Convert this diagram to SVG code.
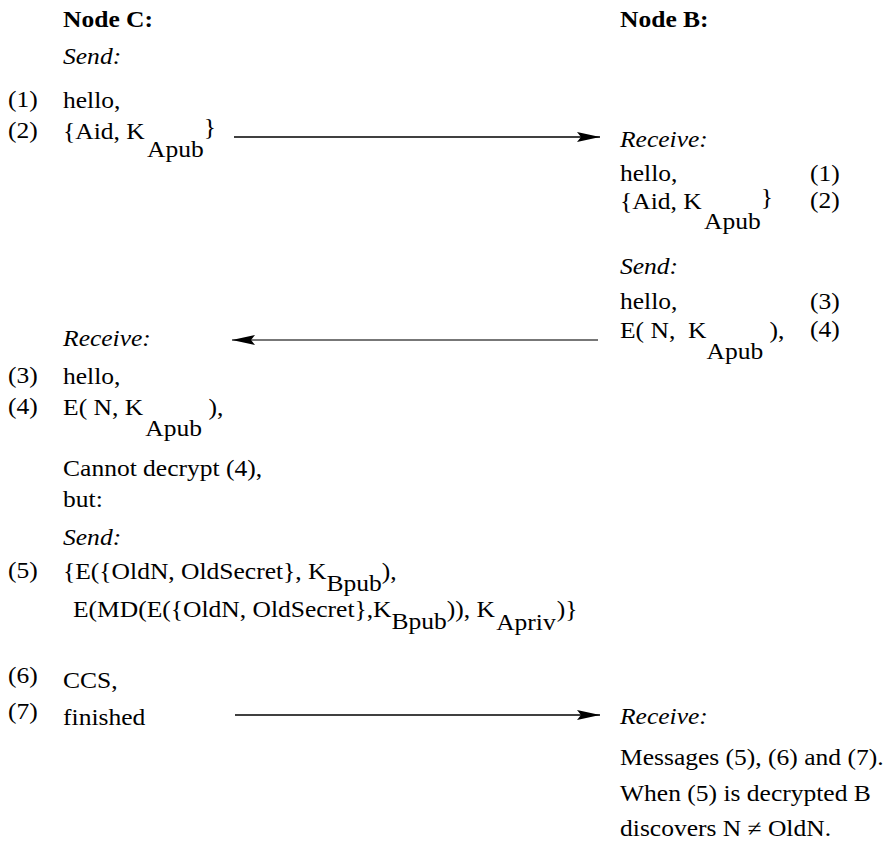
<svg xmlns="http://www.w3.org/2000/svg" width="886" height="844" viewBox="0 0 886 844">
  <defs>
    <marker id="head" markerUnits="userSpaceOnUse" viewBox="0 0 23 10" refX="23" refY="5" markerWidth="23" markerHeight="10" orient="auto">
      <path d="M23 5 L0 0 L4 5 L0 10 Z" fill="#000"/>
    </marker>
  </defs>
  <style>
    .t text { font-family: "Liberation Serif", "DejaVu Serif", serif; font-size: 23px; fill: #000; }
    .t .hd { font-weight: bold; }
    .t .it { font-style: italic; }
    .wire { stroke: #000; stroke-width: 1.5; fill: none; marker-end: url(#head); }
    .grey { stroke: #777; stroke-width: 2; }
  </style>

  <!-- all lettering is set slightly wide: x positions below are in the stretched frame (true x / 1.11) -->
  <g class="t" font-family="Liberation Serif, DejaVu Serif, serif" transform="scale(1.11,1)">

    <!-- Node C: sender side -->
    <g id="nodeC">
      <text class="hd" x="56.8" y="27">Node C:</text>
      <text class="it" x="56.8" y="64">Send:</text>
      <text x="7.2" y="107">(1)</text>
      <text x="56.8" y="108">hello,</text>
      <text x="7.2" y="138">(2)</text>
      <text x="56.8" y="139">{Aid, K<tspan dx="2" dy="18">Apub</tspan><tspan dy="-22">}</tspan></text>

      <text class="it" x="56.8" y="346">Receive:</text>
      <text x="7.2" y="383">(3)</text>
      <text x="56.8" y="384">hello,</text>
      <text x="7.2" y="414">(4)</text>
      <text x="56.8" y="415">E( N, K<tspan dx="2" dy="21">Apub</tspan><tspan dy="-21"> ),</tspan></text>

      <text x="56.8" y="476">Cannot decrypt (4),</text>
      <text x="56.8" y="507">but:</text>
      <text class="it" x="56.8" y="545">Send:</text>
      <text x="7.2" y="578">(5)</text>
      <text x="56.8" y="579">{E({OldN, OldSecret}, K<tspan dy="12">Bpub</tspan><tspan dy="-12">),</tspan></text>
      <text x="65.8" y="617">E(MD(E({OldN, OldSecret},K<tspan dy="12">Bpub</tspan><tspan dy="-12">)), K</tspan><tspan dx="1" dy="13">Apriv</tspan><tspan dx="1" dy="-13">)}</tspan></text>

      <text x="7.2" y="683">(6)</text>
      <text x="56.8" y="688">CCS,</text>
      <text x="7.2" y="719">(7)</text>
      <text x="56.8" y="725">finished</text>
    </g>

    <!-- Node B: receiver side -->
    <g id="nodeB">
      <text class="hd" x="558.6" y="27">Node B:</text>
      <text class="it" x="558.6" y="147">Receive:</text>
      <text x="558.6" y="181">hello,</text>
      <text x="729.7" y="181">(1)</text>
      <text x="558.6" y="209">{Aid, K<tspan dx="2" dy="20">Apub</tspan><tspan dy="-24">}</tspan></text>
      <text x="729.7" y="208">(2)</text>

      <text class="it" x="558.6" y="274">Send:</text>
      <text x="558.6" y="309">hello,</text>
      <text x="729.7" y="309">(3)</text>
      <text x="558.6" y="338">E( N,&#160; K<tspan dy="21">Apub</tspan><tspan dy="-21"> ),</tspan></text>
      <text x="729.7" y="337">(4)</text>

      <text class="it" x="558.6" y="724">Receive:</text>
      <text x="558.6" y="765">Messages (5), (6) and (7).</text>
      <text x="558.6" y="801">When (5) is decrypted B</text>
      <text x="558.6" y="836">discovers N ≠ OldN.</text>
    </g>
  </g>

  <!-- message flows -->
  <g id="connectors">
    <line class="wire" x1="234" y1="137" x2="600" y2="137"/>
    <line class="wire grey" x1="598" y1="340" x2="232" y2="340"/>
    <line class="wire" x1="235" y1="715" x2="600" y2="715"/>
  </g>
</svg>
